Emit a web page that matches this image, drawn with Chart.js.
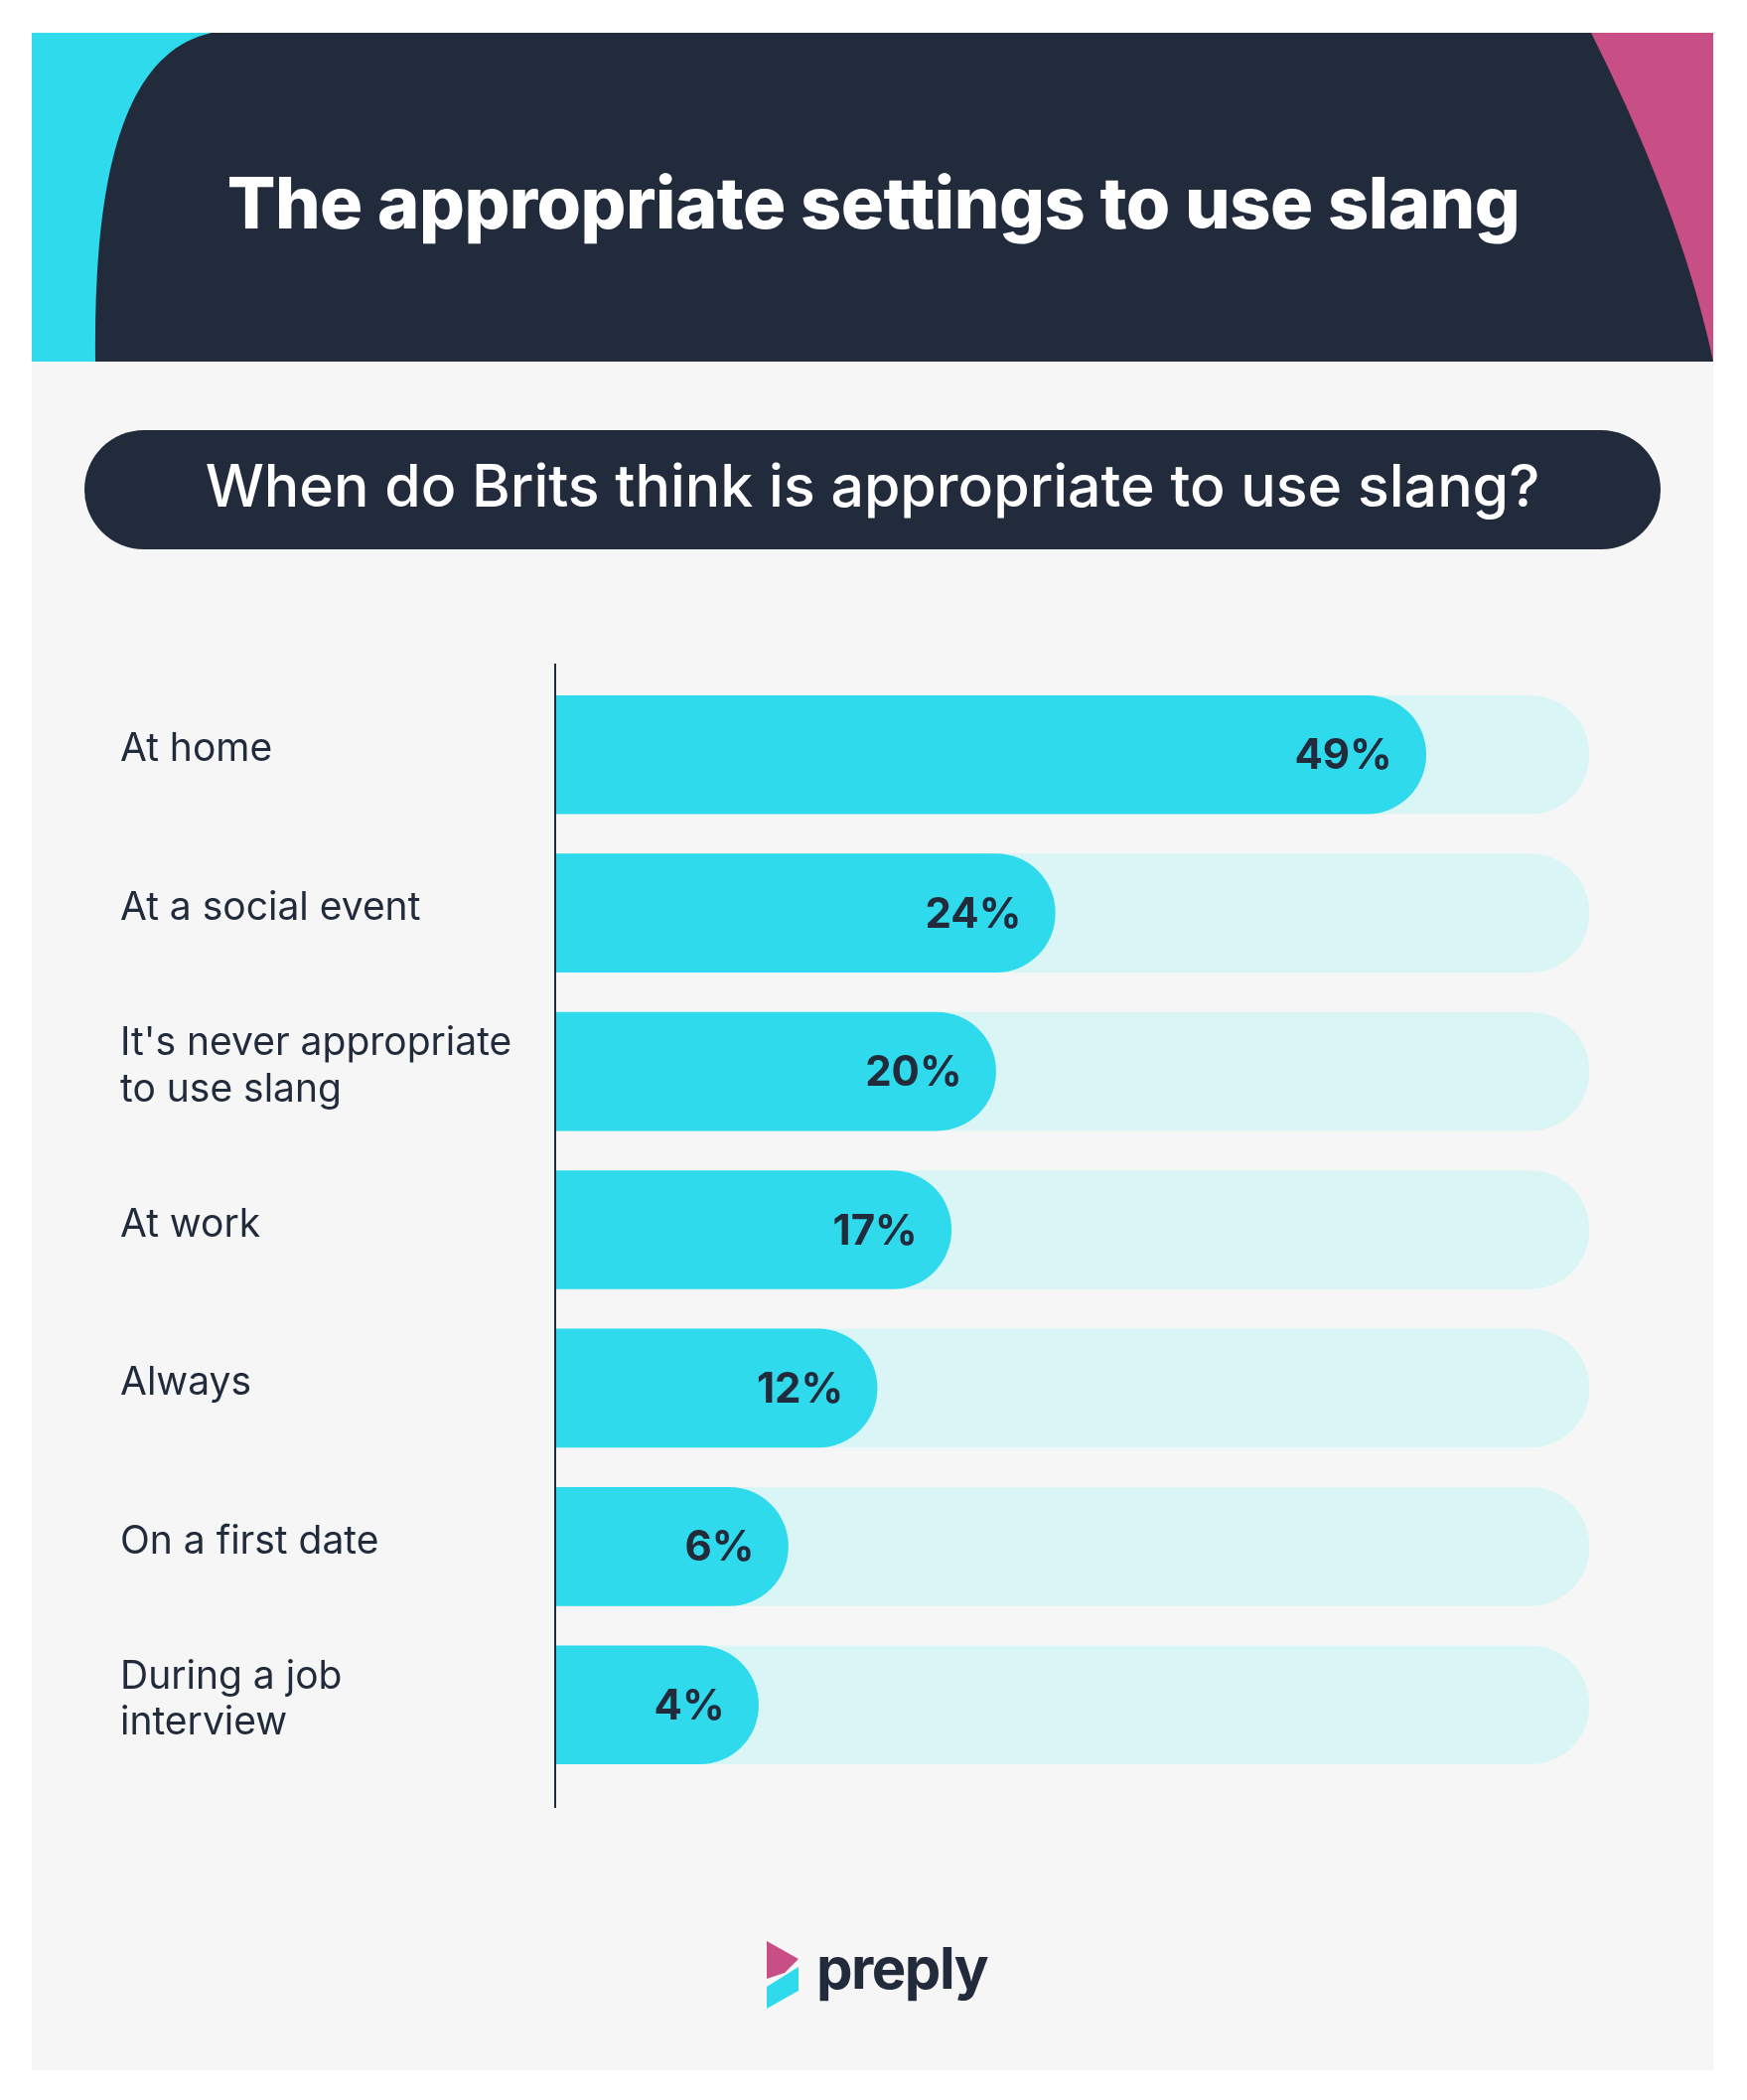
<!DOCTYPE html>
<html lang="en">
<head>
<meta charset="UTF-8">
<title>The appropriate settings to use slang</title>
<script src="https://cdn.jsdelivr.net/npm/chart.js"></script>
<style>
    /* page and panel */
    body {
        margin: 0;
        width: 1759px;
        height: 2114px;
        background: #ffffff;
        font-family: Inter, "Noto Sans", sans-serif;
        position: relative;
        overflow: hidden;
    }
    .panel {
        position: absolute;
        left: 32px;
        top: 33px;
        width: 1693px;
        height: 2051px;
        background: #f6f6f6;
    }
    .header {
        position: absolute;
        left: 32px;
        top: 33px;
        width: 1693px;
        height: 331px;
    }
    .header svg { display: block; }
    .title {
        position: absolute;
        left: 0;
        top: 164px;
        width: 1759px;
        text-align: center;
        color: #ffffff;
        font-weight: 800;
        font-size: 72px;
        line-height: 80px;
        letter-spacing: -0.5px;
    }
    .pill {
        position: absolute;
        left: 85px;
        top: 433px;
        width: 1587px;
        height: 120px;
        border-radius: 60px;
        background: #222b3b;
        color: #ffffff;
        font-size: 59px;
        font-weight: 500;
        line-height: 112px;
        text-align: center;
    }
    .chart-box {
        position: absolute;
        left: 0;
        top: 600px;
        width: 1759px;
        height: 1300px;
    }
    .logo {
        position: absolute;
        left: 770px;
        top: 1950px;
        width: 240px;
        height: 80px;
    }
    .logo span {
        position: absolute;
        left: 52px;
        top: -4px;
        font-size: 58px;
        font-weight: 700;
        color: #222b3b;
        letter-spacing: -1.5px;
        line-height: 70px;
    }
</style>
</head>
<body>
<div class="panel"></div>
<div class="header">
    <svg width="1693" height="331" viewBox="0 0 1693 331">
        <rect x="0" y="0" width="846" height="331" fill="#2fdaed"/>
        <rect x="846" y="0" width="847" height="331" fill="#c84f86"/>
        <path d="M181,0 L1570,0 C1610,80 1665,200 1693,331 L64,331 C62,150 90,20 181,0 Z" fill="#222b3b"/>
    </svg>
</div>
<div class="title">The appropriate settings to use slang</div>
<div class="pill">When do Brits think is appropriate to use slang?</div>

<div class="chart-box">
    <canvas id="chart"></canvas>
</div>

<div class="logo">
    <svg width="40" height="80" viewBox="0 0 40 80" style="position:absolute;left:0;top:0">
        <polygon points="2,4 34,22 20,36 2,42" fill="#c84f86"/>
        <polygon points="2,50 34,30 34,54 2,72" fill="#2fdaed"/>
    </svg>
    <span>preply</span>
</div>

<script>
    // categories (multi-line labels as arrays)
    const categories = [
        'At home',
        'At a social event',
        ["It's never appropriate", 'to use slang'],
        'At work',
        'Always',
        'On a first date',
        ['During a job', 'interview']
    ];
    // share of Brits, percent
    const shares = [49, 24, 20, 17, 12, 6, 4];
    // background track length, percent
    const trackMax = 60;
    // where the bars start on the value axis
    const axisStart = -9.7;

    const darkText = '#222b3b';

    // values drawn inside the bar ends
    const valueLabels = {
        id: 'valueLabels',
        afterDatasetsDraw(chart) {
            const ctx = chart.ctx;
            const meta = chart.getDatasetMeta(0);
            ctx.save();
            ctx.font = '700 42px Inter, "Noto Sans", sans-serif';
            ctx.fillStyle = darkText;
            ctx.textAlign = 'right';
            ctx.textBaseline = 'middle';
            meta.data.forEach((bar, i) => {
                ctx.fillText(shares[i] + '%', bar.x - 34, bar.y + 2);
            });
            ctx.restore();
        }
    };

    // vertical axis line, a little longer than the plot area
    const axisLine = {
        id: 'axisLine',
        afterDatasetsDraw(chart) {
            const {ctx, chartArea} = chart;
            ctx.save();
            ctx.strokeStyle = darkText;
            ctx.lineWidth = 2;
            ctx.beginPath();
            ctx.moveTo(chartArea.left, chartArea.top - 12);
            ctx.lineTo(chartArea.left, chartArea.bottom + 24);
            ctx.stroke();
            ctx.restore();
        }
    };

    new Chart(document.getElementById('chart'), {
        type: 'bar',
        data: {
            labels: categories,
            datasets: [
                {
                    data: shares,
                    base: axisStart,
                    backgroundColor: '#2fdaed',
                    barThickness: 119,
                    borderRadius: 60,
                    borderSkipped: 'start',
                    order: 1
                },
                {
                    data: categories.map(() => trackMax),
                    base: axisStart,
                    backgroundColor: '#daf5f5',
                    barThickness: 119,
                    borderRadius: 60,
                    borderSkipped: 'start',
                    order: 2
                }
            ]
        },
        options: {
            indexAxis: 'y',
            responsive: true,
            maintainAspectRatio: false,
            animation: false,
            layout: {
                padding: {left: 121, right: 159, top: 80, bottom: 104}
            },
            plugins: {
                legend: {display: false},
                tooltip: {enabled: false}
            },
            scales: {
                x: {
                    display: false,
                    min: axisStart,
                    max: trackMax,
                    grid: {display: false}
                },
                y: {
                    grid: {display: false},
                    border: {display: false},
                    ticks: {
                        crossAlign: 'far',
                        labelOffset: -5,
                        color: darkText,
                        font: {family: 'Inter, "Noto Sans", sans-serif', size: 39, lineHeight: 1.2}
                    },
                    afterFit(scale) {
                        scale.width = 438;
                    }
                }
            },
            datasets: {
                bar: {grouped: false}
            }
        },
        plugins: [valueLabels, axisLine]
    });
</script>
</body>
</html>
